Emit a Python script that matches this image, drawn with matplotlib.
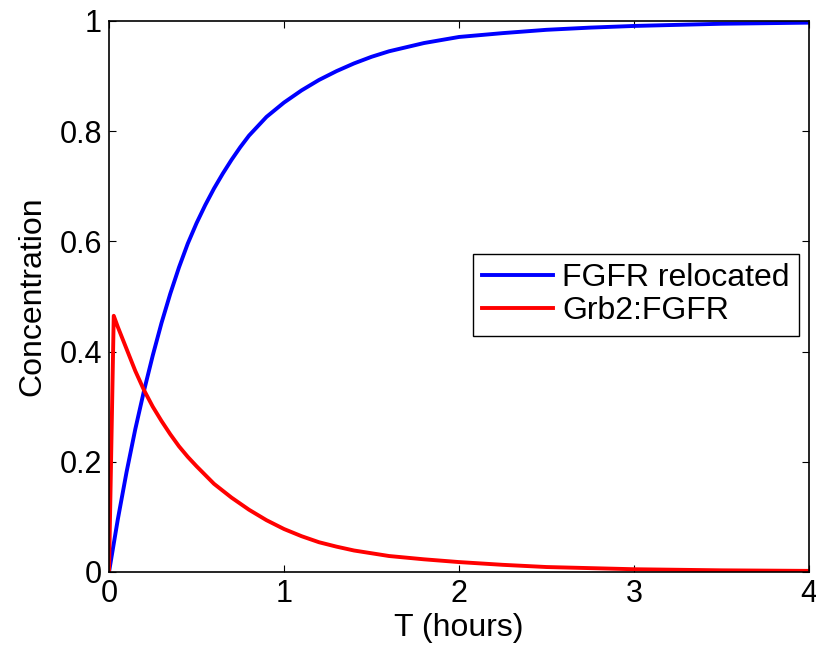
import matplotlib
matplotlib.use("Agg")
import matplotlib.pyplot as plt

# time points (hours)
t_blue = [0, 0.05, 0.1, 0.15, 0.2, 0.25, 0.3, 0.35, 0.4, 0.45, 0.5, 0.55, 0.6, 0.65,
          0.7, 0.75, 0.8, 0.9, 1.0, 1.1, 1.2, 1.3, 1.4, 1.5, 1.6, 1.8, 2.0, 2.25,
          2.5, 2.75, 3.0, 3.5, 4.0]
fgfr_relocated = [0, 0.095, 0.181, 0.259, 0.329, 0.393, 0.452, 0.505, 0.553, 0.596,
                  0.633, 0.666, 0.696, 0.723, 0.748, 0.771, 0.792, 0.826, 0.852,
                  0.874, 0.893, 0.909, 0.923, 0.935, 0.945, 0.96, 0.971, 0.978,
                  0.984, 0.988, 0.991, 0.995, 0.997]

t_red = [0, 0.027, 0.05, 0.1, 0.15, 0.2, 0.25, 0.3, 0.35, 0.4, 0.45, 0.5, 0.6, 0.7,
         0.8, 0.9, 1.0, 1.1, 1.2, 1.3, 1.4, 1.6, 1.8, 2.0, 2.25, 2.5, 3.0, 3.5, 4.0]
grb2_fgfr = [0, 0.465, 0.445, 0.405, 0.365, 0.33, 0.30, 0.274, 0.25, 0.228, 0.209,
             0.192, 0.16, 0.135, 0.113, 0.094, 0.078, 0.065, 0.054, 0.046, 0.039,
             0.029, 0.023, 0.018, 0.013, 0.009, 0.005, 0.003, 0.002]

x_ticks = [0, 1, 2, 3, 4]
y_ticks = [0, 0.2, 0.4, 0.6, 0.8, 1]
y_tick_labels = ["0", "0.2", "0.4", "0.6", "0.8", "1"]

plt.rcParams['font.family'] = ['Liberation Sans', 'DejaVu Sans']

fig = plt.figure(figsize=(8.16, 6.48), dpi=100)
ax = fig.add_axes([0.1336, 0.1173, 0.8578, 0.8503])

ax.plot(t_blue, fgfr_relocated, color='#0000ff', lw=2.8, label='FGFR relocated')
ax.plot(t_red, grb2_fgfr, color='#ff0000', lw=2.8, label='Grb2:FGFR')

ax.set_xlim(0, 4)
ax.set_ylim(0, 1)
ax.set_xticks(x_ticks)
ax.set_yticks(y_ticks)
ax.set_yticklabels(y_tick_labels)
ax.tick_params(direction='in', top=True, right=True, length=5, width=0.8,
               labelsize=22, pad=5)
for s in ax.spines.values():
    s.set_linewidth(1.2)

ax.set_xlabel('T (hours)', fontsize=23, labelpad=3)
ax.set_ylabel('Concentration', fontsize=23, labelpad=9)

leg = ax.legend(loc='center right', bbox_to_anchor=(0.986, 0.503), fontsize=23,
                handlelength=2.2, handletextpad=0.3, borderpad=0.3,
                labelspacing=0.1, borderaxespad=0, fancybox=False, framealpha=1)
leg.get_frame().set_edgecolor('black')
leg.get_frame().set_linewidth(1.0)

fig.savefig('out.png', dpi=100)
